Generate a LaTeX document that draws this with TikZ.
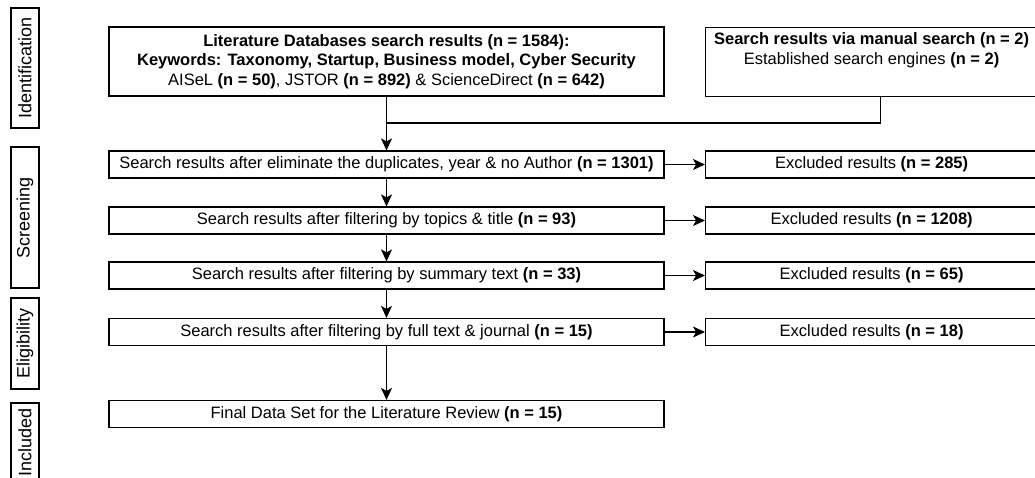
\documentclass[tikz,border=0pt]{standalone}
\usepackage{fontspec}
\setmainfont{Liberation Sans}
\usetikzlibrary{arrows.meta}

\begin{document}
\begin{tikzpicture}[x=1pt,y=-1pt,
  box/.style={draw=black, line width=1.2pt, fill=white, inner sep=0pt,
    minimum height=27pt, align=center,
    font=\fontsize{16.5}{19.5}\selectfont},
  phase/.style={draw=black, line width=1.2pt, inner sep=0pt, rotate=90,
    minimum height=28pt, font=\fontsize{18}{20}\selectfont},
  link/.style={line width=1.2pt, draw=black},
  arr/.style={link, -{Stealth[length=12pt,width=11pt,inset=3pt]}}
]
\useasboundingbox (0,0) rectangle (1035,477);

% phase labels on the left
\node[phase, minimum width=120pt] (pid) at (25,68) {Identification};
\node[phase, minimum width=141pt] (psc) at (25,217.5) {Screening};
\node[phase, minimum width=91pt] (pel) at (25,343.5) {Eligibility};
\node[phase, minimum width=78pt] (pin) at (25,442) {Included};

% identification
\node[box, minimum width=555pt, minimum height=69pt] (lit) at (386.5,61.5)
  {\textbf{Literature Databases search results (n = 1584):}\\
   \textbf{Keywords: Taxonomy, Startup, Business model, Cyber Security}\\
   AISeL \textbf{(n = 50)}, JSTOR \textbf{(n = 892)} \& ScienceDirect \textbf{(n = 642)}};
\node[box, minimum width=332pt, minimum height=69pt, anchor=north west] (man) at (705,27) {};
\node[box, draw=none, fill=none, anchor=north] (mantext) at ([yshift=-5pt]man.north)
  {\textbf{Search results via manual search (n = 2)}\\
   Established search engines \textbf{(n = 2)}};

% main column
\node[box, minimum width=555pt] (b2) at (386.5,164.5)
  {Search results after eliminate the duplicates, year \& no Author \textbf{(n = 1301)}};
\node[box, minimum width=555pt] (b3) at (386.5,220.5)
  {Search results after filtering by topics \& title \textbf{(n = 93)}};
\node[box, minimum width=555pt] (b4) at (386.5,275.5)
  {Search results after filtering by summary text \textbf{(n = 33)}};
\node[box, minimum width=555pt] (b5) at (386.5,332)
  {Search results after filtering by full text \& journal \textbf{(n = 15)}};
\node[box, minimum width=555pt] (b6) at (386.5,414)
  {Final Data Set for the Literature Review \textbf{(n = 15)}};

% excluded column
\node[box, minimum width=332pt, anchor=west] (e2) at (705,164.5) {Excluded results \textbf{(n = 285)}};
\node[box, minimum width=332pt, anchor=west] (e3) at (705,220.5) {Excluded results \textbf{(n = 1208)}};
\node[box, minimum width=332pt, anchor=west] (e4) at (705,275.5) {Excluded results \textbf{(n = 65)}};
\node[box, minimum width=332pt, anchor=west] (e5) at (705,332) {Excluded results \textbf{(n = 18)}};

% connectors
\coordinate (join) at (386.5,123);
\draw[link] ([xshift=8.5pt]man.south) |- (join);
\draw[arr] (lit) -- (b2);
\draw[arr] (b2) -- (b3);
\draw[arr] (b3) -- (b4);
\draw[arr] (b4) -- (b5);
\draw[arr] (b5) -- (b6);
\draw[arr] (b2) -- (e2);
\draw[arr] (b3) -- (e3);
\draw[arr] (b4) -- (e4);
\draw[arr] (b5) -- (e5);
\end{tikzpicture}
\end{document}
